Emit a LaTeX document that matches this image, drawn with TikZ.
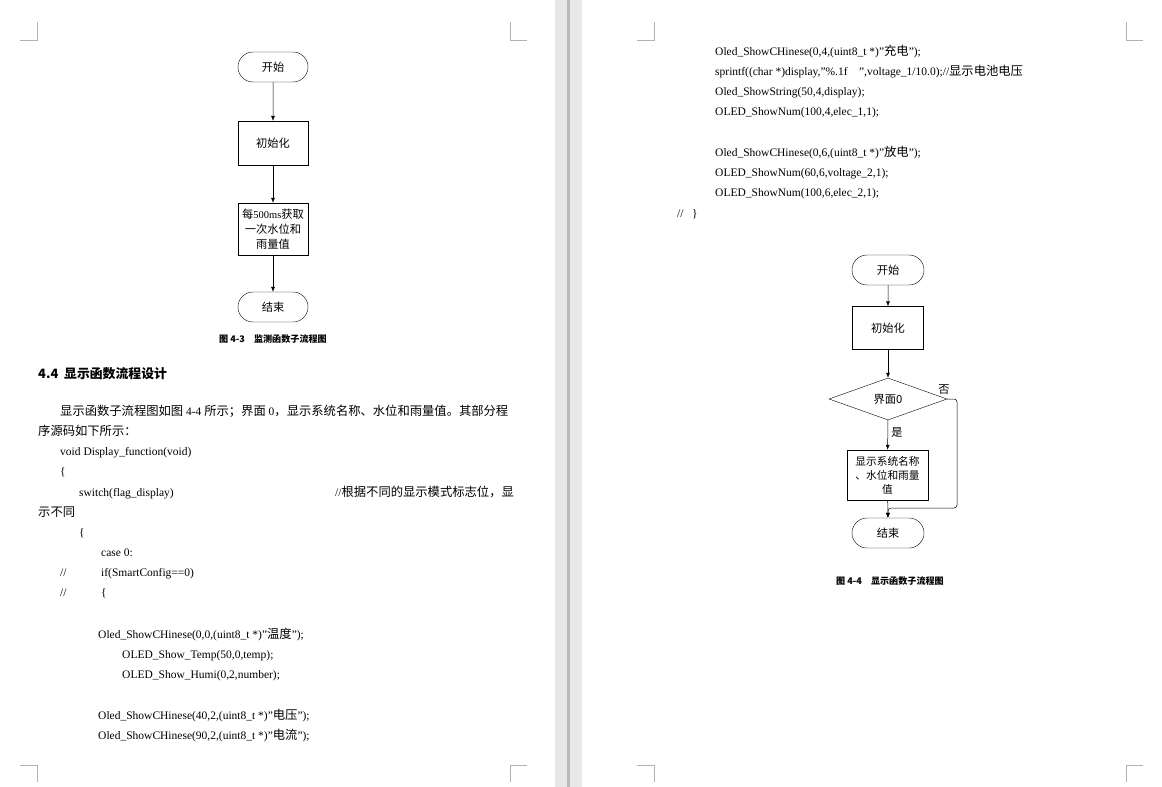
\documentclass[tikz,border=0pt]{standalone}
\usepackage{fontspec}
\setmainfont{Liberation Serif}
\newfontfamily\cjk[Scale=1.07]{Noto Sans CJK SC}
\newcommand{\zh}[1]{{\cjk #1}}
\usetikzlibrary{shapes.geometric,shapes.misc,arrows.meta}
\begin{document}
\begin{tikzpicture}[x=1pt,y=-1pt,
  txt/.style={anchor=base west,inner sep=0pt,font=\fontsize{11.5}{13}\selectfont},
  term/.style={draw,rounded rectangle,minimum width=70pt,minimum height=30pt,inner sep=0pt,font=\cjk\fontsize{10.5}{13}\selectfont},
  box/.style={draw,rectangle,inner sep=1pt,align=center,font=\cjk\fontsize{10.5}{13}\selectfont},
  dia/.style={draw,diamond,aspect=2.8,inner sep=0pt,minimum width=118pt,minimum height=42pt,font=\cjk\fontsize{10.5}{13}\selectfont},
  capt/.style={font=\cjk\bfseries\fontsize{8.5}{11}\selectfont,inner sep=0pt},
  arr/.style={-{Latex[length=5pt,width=4pt]},line width=0.5pt},
  cmark/.style={draw=gray!60,line width=0.5pt}]
\useasboundingbox (0,0) rectangle (1162,787);
\fill[gray!18] (0,0) rectangle (1162,787);
\fill[white] (0,0) rectangle (555,787);
\fill[white] (582,0) rectangle (1162,787);
\draw[gray!55,line width=3pt] (568,0) -- (568,787);
% corner marks
\draw[cmark] (20,40)--(37,40)--(37,22);
\draw[cmark] (527,40)--(510,40)--(510,22);
\draw[cmark] (20,765)--(37,765)--(37,782);
\draw[cmark] (527,765)--(510,765)--(510,782);
\draw[cmark] (637,40)--(654,40)--(654,22);
\draw[cmark] (1143,40)--(1126,40)--(1126,22);
\draw[cmark] (637,765)--(654,765)--(654,782);
\draw[cmark] (1143,765)--(1126,765)--(1126,782);
% left flowchart
\node[term] (s1) at (273,67) {开始};
\node[box,minimum width=70pt,minimum height=44pt] (i1) at (273,143) {初始化};
\node[box,minimum width=70pt,minimum height=52pt,font=\fontsize{10.5}{15}\selectfont] (m1) at (273,229) {\zh{每}500ms\zh{获取}\\\zh{一次水位和}\\\zh{雨量值}};
\node[term] (e1) at (273,307) {结束};
\draw[arr] (s1)--(i1); \draw[arr] (i1)--(m1); \draw[arr] (m1)--(e1);
\node[capt] (c1) at (273,339) {图 4-3\quad 监测函数子流程图};
% left text
\node[txt,font=\cjk\bfseries\fontsize{12}{14}\selectfont] (h) at (38,378) {4.4\ \ 显示函数流程设计};
\node[txt] (p1) at (60,415) {\zh{显示函数子流程图如图} 4-4 \zh{所示；界面} 0\zh{，显示系统名称、水位和雨量值。其部分程}};
\node[txt] (p2) at (38,435) {\zh{序源码如下所示：}};
\node[txt] (l1) at (60,455) {void Display\_function(void)};
\node[txt] (l2) at (60,475) {\{};
\node[txt] (l3) at (79,496) {switch(flag\_display)};
\node[txt] (l3b) at (335,496) {//\zh{根据不同的显示模式标志位，显}};
\node[txt] (l4) at (38,516) {\zh{示不同}};
\node[txt] (l5) at (79,536) {\{};
\node[txt] (l6) at (101,556) {case 0:};
\node[txt] (l7a) at (60,576) {//};
\node[txt] (l7) at (101,576) {if(SmartConfig==0)};
\node[txt] (l8a) at (60,596) {//};
\node[txt] (l8) at (101,596) {\{};
\node[txt] (l9) at (98,638) {Oled\_ShowCHinese(0,0,(uint8\_t *)"\zh{温度}");};
\node[txt] (l10) at (122,658) {OLED\_Show\_Temp(50,0,temp);};
\node[txt] (l11) at (122,678) {OLED\_Show\_Humi(0,2,number);};
\node[txt] (l12) at (98,719) {Oled\_ShowCHinese(40,2,(uint8\_t *)"\zh{电压}");};
\node[txt] (l13) at (98,739) {Oled\_ShowCHinese(90,2,(uint8\_t *)"\zh{电流}");};
% right text
\node[txt] (r1) at (715,55) {Oled\_ShowCHinese(0,4,(uint8\_t *)"\zh{充电}");};
\node[txt] (r2) at (715,75) {sprintf((char *)display,"\%.1f\ \ \ \ ",voltage\_1/10.0);//\zh{显示电池电压}};
\node[txt] (r3) at (715,95) {Oled\_ShowString(50,4,display);};
\node[txt] (r4) at (715,115) {OLED\_ShowNum(100,4,elec\_1,1);};
\node[txt] (r5) at (715,156) {Oled\_ShowCHinese(0,6,(uint8\_t *)"\zh{放电}");};
\node[txt] (r6) at (715,176) {OLED\_ShowNum(60,6,voltage\_2,1);};
\node[txt] (r7) at (715,196) {OLED\_ShowNum(100,6,elec\_2,1);};
\node[txt] (r8) at (677,217) {//\ \ \ \}};
% right flowchart
\node[term,minimum width=72pt] (s2) at (888,270) {开始};
\node[box,minimum width=71pt,minimum height=43pt] (i2) at (888,328) {初始化};
\node[dia] (d2) at (888,399) {界面0};
\node[box,minimum width=81pt,minimum height=50pt,font=\cjk\fontsize{10}{14}\selectfont] (b2) at (887.5,475) {显示系统名称\\、水位和雨量\\值};
\node[term,minimum width=72pt] (e2) at (888,533) {结束};
\coordinate (j) at (888,508);
\draw[arr] (s2)--(i2); \draw[arr] (i2)--(d2);
\draw[arr] (d2)-- node[right,pos=0.4,font=\cjk\fontsize{10.5}{13}\selectfont]{是} (b2);
\draw[arr] (b2)--(e2);
\draw[arr,rounded corners=3pt] (d2.east)--(957,399)--(957,508)--(j)--(e2.north);
\node[font=\cjk\fontsize{10.5}{13}\selectfont] (no) at (944,390) {否};
\node[capt] (c2) at (890,581) {图 4-4\quad 显示函数子流程图};
\end{tikzpicture}
\end{document}
